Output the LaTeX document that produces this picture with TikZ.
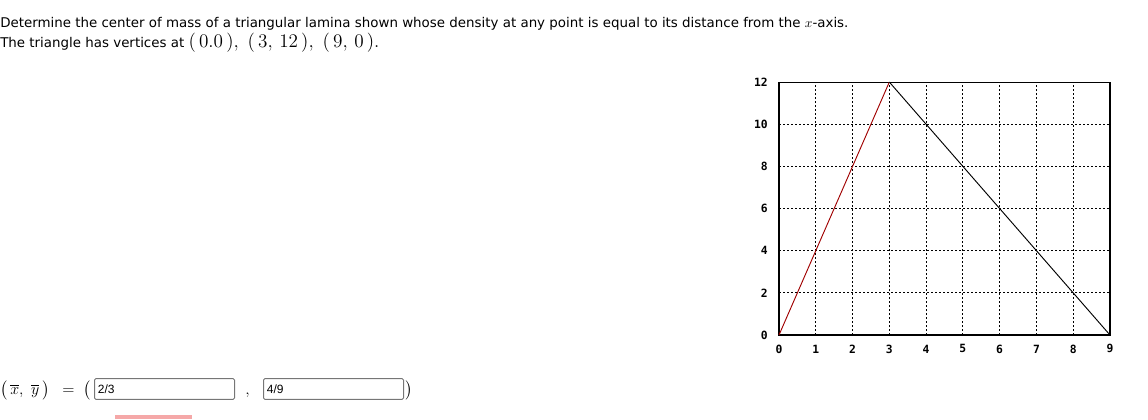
\documentclass[tikz,border=0pt]{standalone}
\usepackage{fontspec}
\usepackage{amsmath}
\newfontfamily\verd{DejaVu Sans}
\newfontfamily\arialf{Liberation Sans}
\newfontfamily\plotfont{DejaVu Sans Mono}
\definecolor{linered}{RGB}{160,0,0}
\definecolor{boxgray}{RGB}{118,118,118}
\definecolor{barpink}{RGB}{245,168,168}
\usetikzlibrary{positioning}
\tikzset{
  ticklab/.style={font=\plotfont\bfseries\fontsize{8.5}{10}\selectfont, inner sep=0pt},
  gridline/.style={black, line width=0.6pt, dash pattern=on 1.5pt off 1.5pt},
  ansbox/.style={draw=boxgray, line width=0.75pt, rounded corners=1pt, minimum width=105pt, minimum height=15.5pt, inner sep=2pt, anchor=west, font=\arialf\fontsize{9}{11}\selectfont, text width=100pt, align=left},
  qtext/.style={font=\verd\fontsize{10.05}{12}\selectfont, inner sep=0pt, anchor=base west},
  mathtxt/.style={inner sep=0pt, anchor=base west, font=\fontsize{11.5}{13}\selectfont}
}

\begin{document}
\begin{tikzpicture}[x=0.75pt,y=-0.75pt]
    \useasboundingbox (0,0) rectangle (1148,419);
    \node[qtext] (line1) at (0,27) {Determine the center of mass of a triangular lamina shown whose density at any point is equal to its distance from the $x$-axis.};
    \node[qtext] (line2) at (0,47) {The triangle has vertices at {\fontsize{13.5}{16}\selectfont$(\,0.0\,),\ (\,3,\,12\,),\ (\,9,\,0\,).$}};

    \begin{scope}[shift={(779,335)}, x=27.58pt, y=15.81pt]
        \foreach \i in {1,...,8}
            \draw[gridline] (\i,0) -- (\i,12);
        \foreach \j in {2,4,...,10}
            \draw[gridline] (0,\j) -- (9,\j);
        \draw[black, line width=0.8pt] (0,0) rectangle (9,12);
        \foreach \i in {0,...,9}
            \node[ticklab] (xl\i) at (\i,-0.66) {\i};
        \foreach \j in {0,2,...,12}
            \node[ticklab, anchor=east] (yl\j) at (-0.3,\j) {\j};
        \coordinate (O) at (0,0);
        \coordinate (A) at (3,12);
        \coordinate (B) at (9,0);
        \draw[linered, line width=0.7pt] (O) -- (A);
        \draw[black, line width=0.7pt] (A) -- (B);
    \end{scope}

    \node[mathtxt] (lhs) at (0,394) {$\big(\,\overline{x},\ \overline{y}\,\big)$};
    \node[mathtxt] (eq) at (62,394) {$=\ \big($};
    \node[ansbox] (xbar) at (94,389) {2/3};
    \node[mathtxt] (comma) at (245,394) {$,$};
    \node[ansbox] (ybar) at (263,389) {4/9};
    \node[mathtxt] (close) at (405,394) {$\big)$};
    \fill[barpink] (115,415) rectangle (192,419);
\end{tikzpicture}
\end{document}
